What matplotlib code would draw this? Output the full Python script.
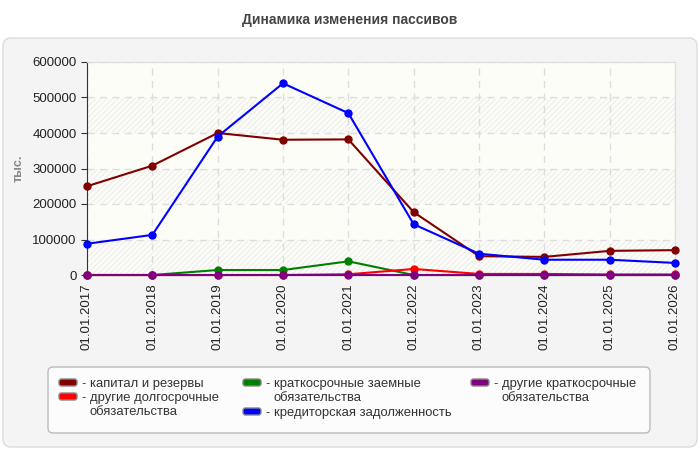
import matplotlib.pyplot as plt
from matplotlib.patches import FancyBboxPatch, Rectangle
from matplotlib.transforms import Affine2D

plt.rcParams['font.family'] = ['Liberation Sans', 'DejaVu Sans']

dates = ['01.01.2017', '01.01.2018', '01.01.2019', '01.01.2020', '01.01.2021',
         '01.01.2022', '01.01.2023', '01.01.2024', '01.01.2025', '01.01.2026']

kapital = [250000, 308000, 400000, 381000, 382000, 177000, 53000, 51000, 68000, 70000]
kratk_zaem = [0, 0, 14000, 14000, 38500, 0, 0, 0, 0, 0]
drugie_kratk = [0, 0, 0, 0, 0, 0, 0, 0, 0, 0]
drugie_dolg = [0, 0, 0, 0, 2000, 17000, 3000, 3000, 1500, 1500]
kreditor = [88000, 113000, 390000, 540000, 456000, 143000, 60000, 43000, 43000, 34000]

names = ['капитал и резервы', 'краткосрочные заемные\nобязательства',
         'другие краткосрочные\nобязательства', 'другие долгосрочные\nобязательства',
         'кредиторская задолженность']
colors = ['#800000', '#008000', '#800080', '#ff0000', '#0000ff']
values = [kapital, kratk_zaem, drugie_kratk, drugie_dolg, kreditor]

W, H = 700, 450
fig = plt.figure(figsize=(7, 4.5), dpi=100)
fig.patch.set_facecolor('white')
px = Affine2D().scale(1 / 100) + fig.dpi_scale_trans   # pixel coords, origin bottom-left


def box(x0, y0, x1, y1, r, fc, ec, z):
    p = FancyBboxPatch((x0, H - y1), x1 - x0, y1 - y0,
                       boxstyle='round,pad=0,rounding_size=%g' % r,
                       transform=px, facecolor=fc, edgecolor=ec, linewidth=1, zorder=z)
    fig.patches.append(p)


# outer grey panel and legend frame
box(3, 38, 697, 447, 8, '#f4f4f4', '#dcdcdc', -5)
box(48, 367, 650, 433, 5, '#fcfcfc', '#bbbbbb', -4)

fig.text(0.5, 1 - 20 / H, 'Динамика изменения пассивов', ha='center', va='center',
         fontsize=10, fontweight='bold', color='#444444')

ax = fig.add_axes([87 / W, 1 - 275 / H, 588 / W, 213 / H])
ax.set_facecolor('#fdfdf8')
ax.set_xlim(0, len(dates) - 1)
ax.set_ylim(0, 600000)

# alternating hatched bands
for lo in range(0, 600000, 200000):
    ax.add_patch(Rectangle((0, lo), len(dates) - 1, 100000, facecolor='none',
                           edgecolor='#efefef', hatch='//////', linewidth=0, zorder=0))

ax.grid(True, color='#dddddd', linestyle=(0, (5, 4)), linewidth=1)
ax.set_axisbelow(True)

x = list(range(len(dates)))
draw_order = [0, 4, 1, 3, 2]
for k, i in enumerate(draw_order):
    ax.plot(x, values[i], color=colors[i], linewidth=1.5, marker='o', markersize=5,
            clip_on=False, zorder=3 + k)

ax.set_xticks(x)
ax.set_xticklabels(dates, rotation=90, fontsize=9.5, color='#222222')
ax.set_yticks(range(0, 600001, 100000))
ax.set_yticklabels([str(v) for v in range(0, 600001, 100000)], fontsize=9.5, color='#222222')
ax.tick_params(axis='y', length=4, color='#333333')
ax.tick_params(axis='x', length=0, pad=6)
ax.set_ylabel('тыс.', fontsize=9, fontweight='bold', color='#888888', va='center')
ax.yaxis.set_label_coords((19 - 87) / 588, 0.5)

for s in ['top', 'right']:
    ax.spines[s].set_color('#dddddd')
ax.spines['left'].set_color('#333333')
ax.spines['bottom'].set_color('#333333')

# legend drawn by hand: (series index, handle x, row y)
leg_items = [(0, 59, 383), (3, 59, 397), (1, 243, 383), (4, 243, 412), (2, 471, 383)]
for i, hx, ry in leg_items:
    box(hx, ry - 4, hx + 18, ry + 3, 2.5, colors[i], '#888888', 2)
    fig.text((hx + 22.5) / W, 1 - (ry + 4) / H, '-', ha='left', va='baseline', fontsize=9.4,
             color='#333333')
    for k, line in enumerate(names[i].split('\n')):
        fig.text((hx + 30.5) / W, 1 - (ry + 4 + 14 * k) / H, line, ha='left',
                 va='baseline', fontsize=9.4, color='#333333')

fig.savefig('out.png', dpi=100, facecolor=fig.get_facecolor())
